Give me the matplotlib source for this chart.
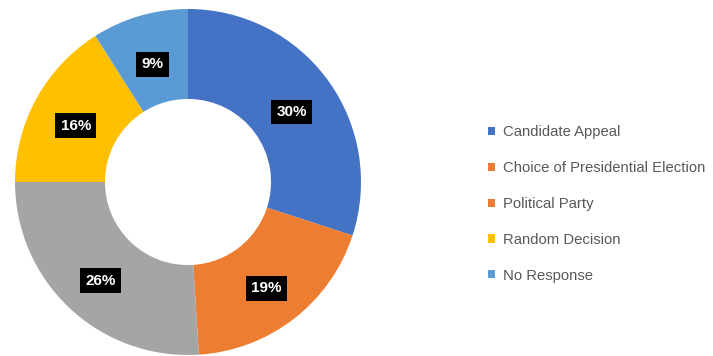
import matplotlib
matplotlib.use("Agg")
import matplotlib.pyplot as plt
from matplotlib.patches import Patch
import numpy as np

# survey answers, clockwise from 12 o'clock
categories = ["Candidate Appeal", "Choice of Presidential Election", "Political Party",
              "Random Decision", "No Response"]
shares = [30, 19, 26, 16, 9]
slice_colors = ["#4472C4", "#ED7D31", "#A5A5A5", "#FFC000", "#5B9BD5"]
legend_colors = ["#4472C4", "#ED7D31", "#ED7D31", "#FFC000", "#5B9BD5"]

plt.rcParams["font.family"] = ["Liberation Sans", "DejaVu Sans"]

fig = plt.figure(figsize=(7.13, 3.56), dpi=100)
fig.patch.set_facecolor("white")

# square axes holding the ring
cx, cy, r = 188, 182, 173
ax = fig.add_axes([(cx - r) / 713, (356 - cy - r) / 356, 2 * r / 713, 2 * r / 356])

ring = 0.52
wedges, _ = ax.pie(shares, colors=slice_colors, startangle=90, counterclock=False,
                   radius=1, wedgeprops=dict(width=ring, linewidth=0))
ax.set_xlim(-1, 1)
ax.set_ylim(-1, 1)
ax.set_aspect("equal")
ax.axis("off")

# percentage tags in the middle of each slice
mid_r = 1 - ring / 2
for w, v in zip(wedges, shares):
    mid = np.deg2rad((w.theta1 + w.theta2) / 2)
    ax.text(mid_r * np.cos(mid), mid_r * np.sin(mid) - 0.03, f"{v}%",
            ha="center", va="center", color="white", fontsize=11, fontweight="bold",
            bbox=dict(boxstyle="square,pad=0.35", fc="black", ec="none"))

handles = [Patch(facecolor=c, edgecolor="none") for c in legend_colors]
fig.legend(handles, categories, loc="center left", bbox_to_anchor=(0.666, 0.427),
           frameon=False, fontsize=10.7, labelcolor="#595959", handlelength=0.47,
           handleheight=0.47, handletextpad=0.55, labelspacing=1.47)

fig.savefig("out.png", dpi=100, facecolor="white")
